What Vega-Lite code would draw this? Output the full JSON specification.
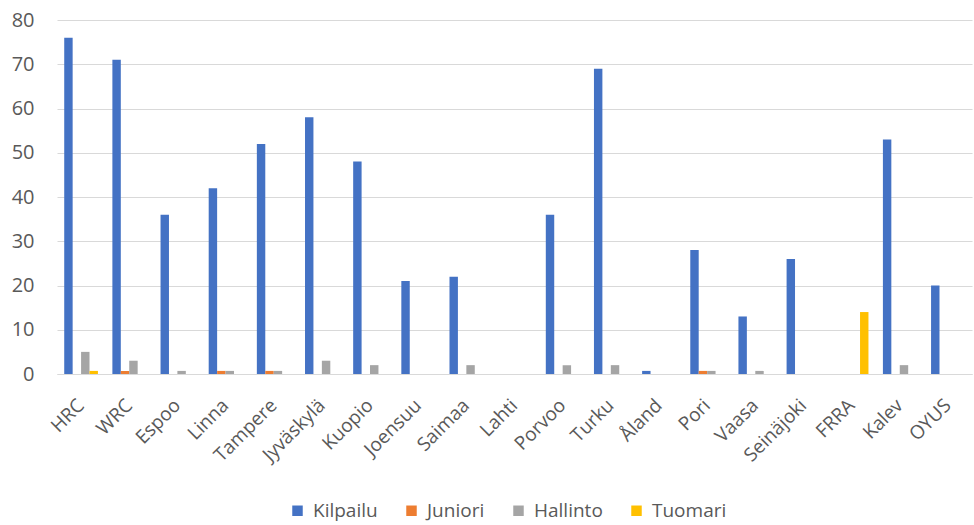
{
  "$schema": "https://vega.github.io/schema/vega-lite/v6.json",
  "autosize": {"type": "none"},
  "padding": {"left": 57, "top": 20, "right": 2, "bottom": 151},
  "width": 915,
  "height": 354,
  "background": "white",
  "data": {
    "values": [
      {"seura": "HRC", "sarja": "Kilpailu", "arvo": 76},
      {"seura": "HRC", "sarja": "Juniori", "arvo": 0},
      {"seura": "HRC", "sarja": "Hallinto", "arvo": 5},
      {"seura": "HRC", "sarja": "Tuomari", "arvo": 0.7},
      {"seura": "WRC", "sarja": "Kilpailu", "arvo": 71},
      {"seura": "WRC", "sarja": "Juniori", "arvo": 0.7},
      {"seura": "WRC", "sarja": "Hallinto", "arvo": 3},
      {"seura": "WRC", "sarja": "Tuomari", "arvo": 0},
      {"seura": "Espoo", "sarja": "Kilpailu", "arvo": 36},
      {"seura": "Espoo", "sarja": "Juniori", "arvo": 0},
      {"seura": "Espoo", "sarja": "Hallinto", "arvo": 0.7},
      {"seura": "Espoo", "sarja": "Tuomari", "arvo": 0},
      {"seura": "Linna", "sarja": "Kilpailu", "arvo": 42},
      {"seura": "Linna", "sarja": "Juniori", "arvo": 0.7},
      {"seura": "Linna", "sarja": "Hallinto", "arvo": 0.7},
      {"seura": "Linna", "sarja": "Tuomari", "arvo": 0},
      {"seura": "Tampere", "sarja": "Kilpailu", "arvo": 52},
      {"seura": "Tampere", "sarja": "Juniori", "arvo": 0.7},
      {"seura": "Tampere", "sarja": "Hallinto", "arvo": 0.7},
      {"seura": "Tampere", "sarja": "Tuomari", "arvo": 0},
      {"seura": "Jyväskylä", "sarja": "Kilpailu", "arvo": 58},
      {"seura": "Jyväskylä", "sarja": "Juniori", "arvo": 0},
      {"seura": "Jyväskylä", "sarja": "Hallinto", "arvo": 3},
      {"seura": "Jyväskylä", "sarja": "Tuomari", "arvo": 0},
      {"seura": "Kuopio", "sarja": "Kilpailu", "arvo": 48},
      {"seura": "Kuopio", "sarja": "Juniori", "arvo": 0},
      {"seura": "Kuopio", "sarja": "Hallinto", "arvo": 2},
      {"seura": "Kuopio", "sarja": "Tuomari", "arvo": 0},
      {"seura": "Joensuu", "sarja": "Kilpailu", "arvo": 21},
      {"seura": "Joensuu", "sarja": "Juniori", "arvo": 0},
      {"seura": "Joensuu", "sarja": "Hallinto", "arvo": 0},
      {"seura": "Joensuu", "sarja": "Tuomari", "arvo": 0},
      {"seura": "Saimaa", "sarja": "Kilpailu", "arvo": 22},
      {"seura": "Saimaa", "sarja": "Juniori", "arvo": 0},
      {"seura": "Saimaa", "sarja": "Hallinto", "arvo": 2},
      {"seura": "Saimaa", "sarja": "Tuomari", "arvo": 0},
      {"seura": "Lahti", "sarja": "Kilpailu", "arvo": 0},
      {"seura": "Lahti", "sarja": "Juniori", "arvo": 0},
      {"seura": "Lahti", "sarja": "Hallinto", "arvo": 0},
      {"seura": "Lahti", "sarja": "Tuomari", "arvo": 0},
      {"seura": "Porvoo", "sarja": "Kilpailu", "arvo": 36},
      {"seura": "Porvoo", "sarja": "Juniori", "arvo": 0},
      {"seura": "Porvoo", "sarja": "Hallinto", "arvo": 2},
      {"seura": "Porvoo", "sarja": "Tuomari", "arvo": 0},
      {"seura": "Turku", "sarja": "Kilpailu", "arvo": 69},
      {"seura": "Turku", "sarja": "Juniori", "arvo": 0},
      {"seura": "Turku", "sarja": "Hallinto", "arvo": 2},
      {"seura": "Turku", "sarja": "Tuomari", "arvo": 0},
      {"seura": "Åland", "sarja": "Kilpailu", "arvo": 0.7},
      {"seura": "Åland", "sarja": "Juniori", "arvo": 0},
      {"seura": "Åland", "sarja": "Hallinto", "arvo": 0},
      {"seura": "Åland", "sarja": "Tuomari", "arvo": 0},
      {"seura": "Pori", "sarja": "Kilpailu", "arvo": 28},
      {"seura": "Pori", "sarja": "Juniori", "arvo": 0.7},
      {"seura": "Pori", "sarja": "Hallinto", "arvo": 0.7},
      {"seura": "Pori", "sarja": "Tuomari", "arvo": 0},
      {"seura": "Vaasa", "sarja": "Kilpailu", "arvo": 13},
      {"seura": "Vaasa", "sarja": "Juniori", "arvo": 0},
      {"seura": "Vaasa", "sarja": "Hallinto", "arvo": 0.7},
      {"seura": "Vaasa", "sarja": "Tuomari", "arvo": 0},
      {"seura": "Seinäjoki", "sarja": "Kilpailu", "arvo": 26},
      {"seura": "Seinäjoki", "sarja": "Juniori", "arvo": 0},
      {"seura": "Seinäjoki", "sarja": "Hallinto", "arvo": 0},
      {"seura": "Seinäjoki", "sarja": "Tuomari", "arvo": 0},
      {"seura": "FRRA", "sarja": "Kilpailu", "arvo": 0},
      {"seura": "FRRA", "sarja": "Juniori", "arvo": 0},
      {"seura": "FRRA", "sarja": "Hallinto", "arvo": 0},
      {"seura": "FRRA", "sarja": "Tuomari", "arvo": 14},
      {"seura": "Kalev", "sarja": "Kilpailu", "arvo": 53},
      {"seura": "Kalev", "sarja": "Juniori", "arvo": 0},
      {"seura": "Kalev", "sarja": "Hallinto", "arvo": 2},
      {"seura": "Kalev", "sarja": "Tuomari", "arvo": 0},
      {"seura": "OYUS", "sarja": "Kilpailu", "arvo": 20},
      {"seura": "OYUS", "sarja": "Juniori", "arvo": 0},
      {"seura": "OYUS", "sarja": "Hallinto", "arvo": 0},
      {"seura": "OYUS", "sarja": "Tuomari", "arvo": 0}
    ]
  },
  "mark": {"type": "bar"},
  "encoding": {
    "x": {
      "field": "seura",
      "type": "nominal",
      "sort": null,
      "title": null,
      "scale": {"paddingInner": 0.3, "paddingOuter": 0.15},
      "axis": {
        "labelAngle": -45,
        "labelAlign": "right",
        "labelBaseline": "middle",
        "labelFont": "Open Sans",
        "labelFontSize": 19,
        "labelColor": "#595959",
        "labelPadding": 28,
        "ticks": false,
        "domainColor": "#d9d9d9",
        "domainWidth": 1
      }
    },
    "xOffset": {
      "field": "sarja",
      "type": "nominal",
      "sort": ["Kilpailu", "Juniori", "Hallinto", "Tuomari"],
      "scale": {"paddingInner": 0, "paddingOuter": 0}
    },
    "y": {
      "field": "arvo",
      "type": "quantitative",
      "title": null,
      "scale": {"domain": [0, 80], "nice": false},
      "axis": {
        "values": [0, 10, 20, 30, 40, 50, 60, 70, 80],
        "labelFont": "Open Sans",
        "labelFontSize": 20,
        "labelColor": "#595959",
        "labelPadding": 23,
        "ticks": false,
        "domain": false,
        "gridColor": "#d9d9d9",
        "gridWidth": 1
      }
    },
    "color": {
      "field": "sarja",
      "type": "nominal",
      "sort": ["Kilpailu", "Juniori", "Hallinto", "Tuomari"],
      "scale": {
        "domain": ["Kilpailu", "Juniori", "Hallinto", "Tuomari"],
        "range": ["#4472C4", "#ED7D31", "#A5A5A5", "#FFC000"]
      },
      "legend": {
        "title": null,
        "orient": "none",
        "direction": "horizontal",
        "legendX": 231,
        "legendY": 481,
        "symbolType": "square",
        "symbolSize": 110,
        "symbolStrokeWidth": 0,
        "labelFont": "Open Sans",
        "labelFontSize": 19,
        "labelColor": "#595959",
        "columnPadding": 24,
        "labelOffset": 6
      }
    }
  },
  "config": {"view": {"stroke": null}}
}
